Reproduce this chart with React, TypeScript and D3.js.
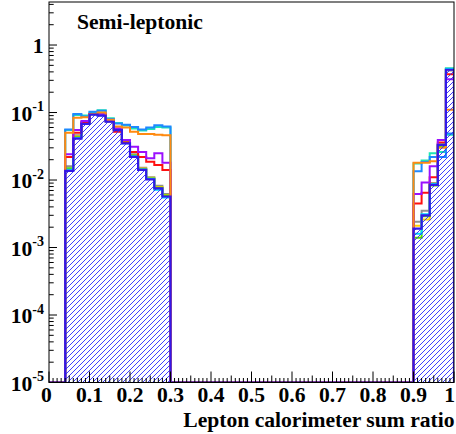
import React from "react";
import * as d3 from "d3";

// Bin layout: width 0.02, filled ranges start at these lower edges
const BIN_WIDTH = 0.02;
const lowBinStart = 0.04; // 13 bins: 0.04 .. 0.30
const highBinStart = 0.9; // 5 bins: 0.90 .. 1.00

// Fractions per bin, left block (0.04-0.30) and right block (0.90-1.00)
const signalLow = [0.0137, 0.041, 0.068, 0.093, 0.09, 0.073, 0.055, 0.035, 0.022, 0.0141, 0.0102, 0.0075, 0.0057];
const signalHigh = [0.0019, 0.003, 0.0085, 0.033, 0.43];

const lightBlueLow = [0.056, 0.095, 0.087, 0.103, 0.106, 0.08, 0.069, 0.066, 0.061, 0.056, 0.06, 0.065, 0.062];
const lightBlueHigh = [0.0135, 0.0185, 0.022, 0.022, 0.049];

const tealLow = [0.055, 0.092, 0.09, 0.1, 0.108, 0.082, 0.07, 0.064, 0.058, 0.054, 0.057, 0.061, 0.06];
const tealHigh = [0.0175, 0.0195, 0.025, 0.026, 0.047];

const orangeLow = [0.05, 0.084, 0.085, 0.095, 0.1, 0.078, 0.062, 0.06, 0.052, 0.048, 0.048, 0.047, 0.046];
const orangeHigh = [0.018, 0.018, 0.019, 0.03, 0.11];

const purpleLow = [0.024, 0.055, 0.075, 0.095, 0.095, 0.075, 0.058, 0.039, 0.031, 0.026, 0.021, 0.025, 0.018];
const purpleHigh = [0.0062, 0.0092, 0.016, 0.039, 0.31];

const redLow = [0.022, 0.05, 0.072, 0.095, 0.095, 0.074, 0.052, 0.036, 0.026, 0.022, 0.0187, 0.0167, 0.0141];
const redHigh = [0.0045, 0.0065, 0.011, 0.036, 0.37];

const grayLow = [0.016, 0.046, 0.072, 0.096, 0.094, 0.077, 0.058, 0.037, 0.024, 0.0152, 0.011, 0.0082, 0.0062];
const grayHigh = [0.0024, 0.0035, 0.009, 0.034, 0.42];

const yellowLow = [0.0145, 0.044, 0.07, 0.094, 0.093, 0.075, 0.057, 0.036, 0.023, 0.0148, 0.0108, 0.0079, 0.006];
const yellowHigh = [0.0021, 0.0026, 0.0088, 0.033, 0.44];

const greenLow = [0.015, 0.043, 0.069, 0.095, 0.092, 0.074, 0.056, 0.036, 0.023, 0.0145, 0.0105, 0.0077, 0.0059];
const greenHigh = [0.0014, 0.0029, 0.0083, 0.032, 0.45];

const cyanLow = [0.0142, 0.042, 0.07, 0.094, 0.091, 0.074, 0.056, 0.035, 0.0225, 0.0143, 0.0104, 0.0072, 0.0055];
const cyanHigh = [0.0016, 0.0031, 0.0087, 0.034, 0.45];

const xTickLabels = ["0", "0.1", "0.2", "0.3", "0.4", "0.5", "0.6", "0.7", "0.8", "0.9", "1"];
const yDecades = [-5, -4, -3, -2, -1, 0];

const series = [
  { name: "gray", color: "#8f8f8f", low: grayLow, high: grayHigh },
  { name: "yellow", color: "#ffd000", low: yellowLow, high: yellowHigh },
  { name: "green", color: "#55dd00", low: greenLow, high: greenHigh },
  { name: "cyan", color: "#00d8ff", low: cyanLow, high: cyanHigh },
  { name: "teal", color: "#1ee6b4", low: tealLow, high: tealHigh },
  { name: "lightBlue", color: "#1e88ff", low: lightBlueLow, high: lightBlueHigh },
  { name: "red", color: "#ff1010", low: redLow, high: redHigh },
  { name: "purple", color: "#9a10ff", low: purpleLow, high: purpleHigh },
  { name: "orange", color: "#ff8a10", low: orangeLow, high: orangeHigh },
];

const W = 456;
const H = 434;
const left = 49;
const right = 454;
const top = 2;
const bottom = 382.5;
const yMin = 1e-5;
const yMax = 4.34;
const font = "'Liberation Serif', 'Times New Roman', serif";
const signalColor = "#3318e8";
const hatchColor = "#2a2aff";

function buildBins(low: number[], high: number[]) {
  const n = Math.round(1 / BIN_WIDTH);
  const vals = new Array(n).fill(0);
  const i0 = Math.round(lowBinStart / BIN_WIDTH);
  const i1 = Math.round(highBinStart / BIN_WIDTH);
  low.forEach((v, k) => (vals[i0 + k] = v));
  high.forEach((v, k) => (vals[i1 + k] = v));
  return vals;
}

export default function App() {
  const x = d3.scaleLinear().domain([0, 1]).range([left, right]);
  const y = d3.scaleLog().domain([yMin, yMax]).range([bottom, top]);

  const stepPath = (vals: number[]) => {
    const pts: [number, number][] = [[x(0), y(yMin)]];
    vals.forEach((v, i) => {
      const yy = y(Math.max(v, yMin));
      pts.push([x(i * BIN_WIDTH), yy]);
      pts.push([x((i + 1) * BIN_WIDTH), yy]);
    });
    pts.push([x(1), y(yMin)]);
    return d3.line()(pts) as string;
  };

  const signalPath = stepPath(buildBins(signalLow, signalHigh));

  const xMinor = d3.range(0, 101).map((i) => i / 100);
  const yMinor: number[] = [];
  for (let e = -5; e <= 0; e++) {
    for (let m = 2; m <= 9; m++) {
      const v = m * Math.pow(10, e);
      if (v <= yMax) yMinor.push(v);
    }
  }

  return (
    <svg width={W} height={H} style={{ position: "absolute", left: 0, top: 0, background: "#fff" }}>
      <defs>
        <pattern id="hatch" patternUnits="userSpaceOnUse" width={5} height={5}>
          <path d="M-1,1 L1,-1 M0,5 L5,0 M4,6 L6,4" stroke={hatchColor} strokeWidth={0.9} />
        </pattern>
        <clipPath id="frame">
          <rect x={left} y={top} width={right - left} height={bottom - top} />
        </clipPath>
      </defs>
      <rect x={0} y={0} width={W} height={H} fill="#fff" />

      <g clipPath="url(#frame)">
        {series.map((s) => (
          <path key={s.name} d={stepPath(buildBins(s.low, s.high))} fill="none" stroke={s.color} strokeWidth={2} />
        ))}
        <path d={signalPath} fill="url(#hatch)" stroke="none" />
        <path d={signalPath} fill="none" stroke={signalColor} strokeWidth={2.2} />
      </g>

      {/* frame */}
      <rect x={left} y={top} width={right - left} height={bottom - top} fill="none" stroke="#000" strokeWidth={1} />

      {/* x ticks */}
      {xMinor.map((t, i) => {
        const len = i % 10 === 0 ? 11 : i % 5 === 0 ? 7 : 4.5;
        return <line key={"xt" + i} x1={x(t)} x2={x(t)} y1={bottom} y2={bottom - len} stroke="#000" strokeWidth={1} />;
      })}
      {xTickLabels.map((lab, i) => {
        const t = i / 10;
        const isLast = i === xTickLabels.length - 1;
        return (
          <text
            key={"xl" + i}
            x={isLast ? 455 : x(t) + (i === 0 ? -2.5 : 0)}
            y={402}
            textAnchor={isLast ? "end" : "middle"}
            fontFamily={font}
            fontWeight="bold"
            fontSize={21.6}
            fill="#000"
          >
            {lab}
          </text>
        );
      })}

      {/* y ticks */}
      {yDecades.map((e) => (
        <line key={"yt" + e} x1={left} x2={left + 8} y1={y(Math.pow(10, e))} y2={y(Math.pow(10, e))} stroke="#000" strokeWidth={1} />
      ))}
      {yMinor.map((v, i) => (
        <line key={"ym" + i} x1={left} x2={left + 4.7} y1={y(v)} y2={y(v)} stroke="#000" strokeWidth={1} />
      ))}
      {yDecades.map((e) => {
        const yy = y(Math.pow(10, e));
        if (e === 0) {
          return (
            <text key={"yl" + e} x={43.5} y={yy + 8} textAnchor="end" fontFamily={font} fontWeight="bold" fontSize={21.6} fill="#000">
              1
            </text>
          );
        }
        return (
          <text key={"yl" + e} x={44} y={yy + 8.3} textAnchor="end" fontFamily={font} fontWeight="bold" fontSize={21.6} fill="#000">
            10
            <tspan dy={-9.5} fontSize={14}>
              {String(e)}
            </tspan>
          </text>
        );
      })}

      {/* titles */}
      <text x={77} y={29.3} fontFamily={font} fontWeight="bold" fontSize={21.6} fill="#000">
        Semi-leptonic
      </text>
      <text x={454.5} y={426.5} textAnchor="end" fontFamily={font} fontWeight="bold" fontSize={21.6} fill="#000">
        Lepton calorimeter sum ratio
      </text>
    </svg>
  );
}
